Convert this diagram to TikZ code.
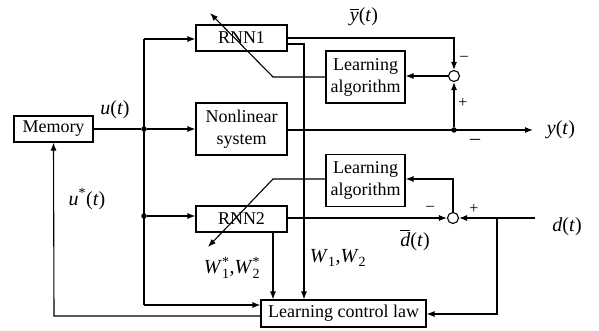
\documentclass[tikz,border=0pt]{standalone}
\usepackage{amsmath}
\usepackage{fontspec}
\setmainfont{Liberation Serif}
\usetikzlibrary{arrows.meta,calc}
\newcommand\iv[1]{\textit{#1}}
\begin{document}
\begin{tikzpicture}[x=1pt,y=-1pt,line width=1.1pt,
  >={Latex[length=8pt,width=6pt]},
  blk/.style={draw,inner sep=0pt,align=center,font=\fontsize{18}{22}\selectfont},
  lbl/.style={inner sep=0pt,font=\fontsize{20}{22}\selectfont},
  sgn/.style={inner sep=0pt,font=\fontsize{16}{16}\selectfont},
  sumj/.style={draw,circle,inner sep=0pt,minimum size=11pt,line width=1.1pt},
  jdot/.style={circle,fill,inner sep=0pt,minimum size=5.5pt}]
\useasboundingbox (0,0) rectangle (599,331);

% blocks
\node[blk,minimum width=79pt,minimum height=26pt] (mem) at (53.5,129) {Memory};
\node[blk,minimum width=91pt,minimum height=26pt] (rnn1) at (241.5,38) {RNN1};
\node[blk,minimum width=91pt,minimum height=52pt] (nls) at (241.5,129) {Nonlinear\\system};
\node[blk,minimum width=79pt,minimum height=52pt] (la1) at (365.5,77) {Learning\\algorithm};
\node[blk,minimum width=79pt,minimum height=52pt] (la2) at (365.5,180.5) {Learning\\algorithm};
\node[blk,minimum width=91pt,minimum height=26pt] (rnn2) at (241.5,219) {RNN2};
\node[blk,minimum width=165pt,minimum height=27pt] (lcl) at (343.5,313.5) {Learning control law};

% summing junctions
\node[sumj] (s1) at (454,76) {};
\node[sumj] (s2) at (453,218) {};

% branch points
\coordinate (bus) at (144,39);
\node[jdot] (j1) at (144,129) {};
\node[jdot] (j2) at (144,216) {};
\coordinate (jb) at (144,305);
\node[jdot] (j3) at (454,130) {};
\coordinate (yend) at (533,130);
\coordinate (dstart) at (535,218);
\coordinate (dtap) at (497,218);
\coordinate (fb) at (54,316);
\coordinate (w12) at (304,44);
\coordinate (a1) at (273,77);
\coordinate (a1tip) at (210,13);
\coordinate (a2) at (273,179);
\coordinate (a2tip) at (208,247);

% input distribution
\draw (mem.east) -- (j1);
\draw[->] (j1) -- (nls.west);
\draw (jb) -- (bus);
\draw[->] (bus) -- (bus -| rnn1.west);
\draw[->] (j2) -- (j2 -| rnn2.west);
\draw[->] (jb) -- (jb -| lcl.west);
\draw[->] (lcl.west |- fb) -- (fb) -- (mem.south);

% RNN1 and plant outputs
\draw[->] (rnn1.east |- 0,38) -- (s1.north |- 0,38) -- (s1.north);
\draw[->] (rnn1.east |- w12) -- (w12) -- (w12 |- lcl.north);
\draw[->] (nls.east |- j3) -- (yend);
\draw[->] (j3) -- (s1.south);
\draw[->] (s1.west) -- (la1.east |- s1.west);
\draw[->] (la1.west) -- (a1) -- (a1tip);

% RNN2 loop
\draw[->] (rnn2.east |- s2) -- (s2.west);
\draw[->] (dstart) -- (s2.east);
\draw[->] (s2.north) -- (s2.north |- a2) -- (la2.east |- a2);
\draw[->] (la2.west |- a2) -- (a2) -- (a2tip);
\draw[->] (273,0 |- rnn2.south) -- (273,0 |- lcl.north);
\draw[->] (dtap) -- (dtap |- 0,314) -- (lcl.east |- 0,314);

% signal labels
\node[lbl] (lu) at (115,110) {\iv{u}(\iv{t})};
\node[lbl] (lyb) at (364,17) {$\overline{\text{\iv{y}}}$(\iv{t})};
\node[lbl] (ly) at (561,130) {\iv{y}(\iv{t})};
\node[lbl] (ldb) at (415,240) {$\overline{\text{\iv{d}}}$(\iv{t})};
\node[lbl] (ld) at (567,227) {\iv{d}(\iv{t})};
\node[lbl] (lus) at (87,199) {\iv{u}$^{\text{*}}$(\iv{t})};
\node[lbl] (lw) at (338,258) {$\text{\iv{W}}_{\text{1}}$,$\text{\iv{W}}_{\text{2}}$};
\node[lbl] (lws) at (232,268) {$\text{\iv{W}}_{\text{1}}^{\text{*}}$,$\text{\iv{W}}_{\text{2}}^{\text{*}}$};

% signs
\node[sgn] (m1) at (464,58) {--};
\node[sgn] (p1) at (463,103) {+};
\node[sgn] (m2) at (430,208) {--};
\node[sgn] (p2) at (474,209) {+};
\node[lbl] (m3) at (475,142) {--};
\end{tikzpicture}
\end{document}
